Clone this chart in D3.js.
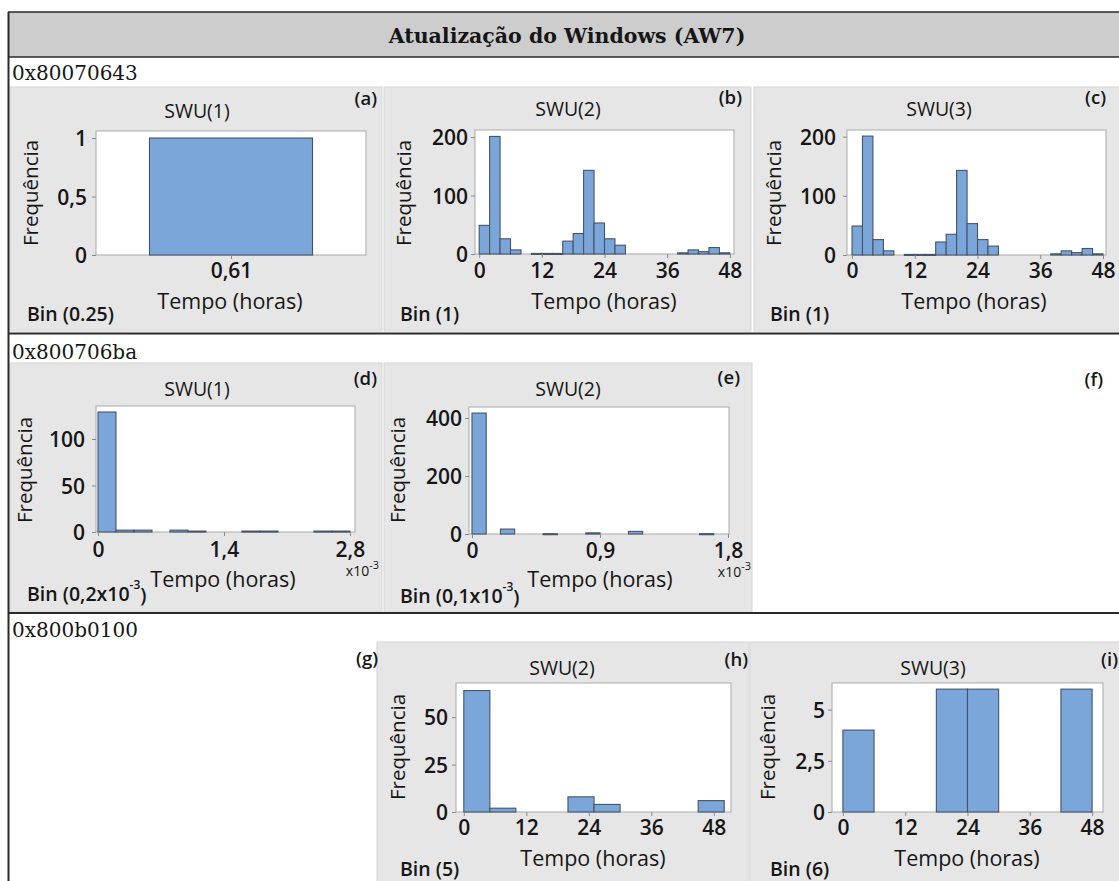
<!DOCTYPE html>
<html>
<head>
<meta charset="utf-8">
<script src="https://cdn.jsdelivr.net/npm/d3@7"></script>
<style>
  body { margin: 0; background: #fff; }
  svg { display: block; }
  text { font-family: "Open Sans", "Noto Sans", sans-serif; fill: #161616; }
</style>
</head>
<body>
<svg id="chart" width="1119" height="881"></svg>
<script>
// ---- Table text ----
const tableTitle = "Atualização do Windows (AW7)";
const rowCodes = ["0x80070643", "0x800706ba", "0x800b0100"];

// ---- Histogram data (counts per bin) ----
// (a) SWU(1), error 0x80070643 — one bin centred at 0,61 h
const aBinStart = 0.485, aBinWidth = 0.25;
const aCounts = [1];
// (b) SWU(2), error 0x80070643 — hours, bins of 2 h from 0
const bBinStart = 0, bBinWidth = 2;
const bCounts = [49, 201, 26, 7, 0, 1, 1, 1, 22, 35, 143, 53, 26, 15, 0, 0, 0, 0, 0, 2, 7, 4, 11, 2];
// (c) SWU(3), error 0x80070643
const cBinStart = 0, cBinWidth = 2;
const cCounts = [49, 201, 26, 7, 0, 1, 1, 1, 22, 35, 143, 53, 26, 15, 0, 0, 0, 0, 0, 2, 7, 4, 11, 2];
// (d) SWU(1), error 0x800706ba — units of 10^-3 h
const dBinStart = 0, dBinWidth = 0.2;
const dCounts = [129, 2, 2, 0, 2, 1, 0, 0, 1, 1, 0, 0, 1, 1];
// (e) SWU(2), error 0x800706ba — units of 10^-3 h
const eBinStart = 0, eBinWidth = 0.1;
const eCounts = [417, 0, 17, 0, 0, 1, 0, 0, 4, 0, 0, 9, 0, 0, 0, 0, 1, 0];
// (h) SWU(2), error 0x800b0100 — bins of 5 h
const hBinStart = 0, hBinWidth = 5;
const hCounts = [64, 2, 0, 0, 8, 4, 0, 0, 0, 6];
// (i) SWU(3), error 0x800b0100 — bins of 6 h
const iBinStart = 0, iBinWidth = 6;
const iCounts = [4, 0, 0, 6, 6, 0, 0, 6];

// ---- Tick values ----
const aXTicks = [0.61], aYTicks = [0, 0.5, 1];
const hourTicks = [0, 12, 24, 36, 48];
const bYTicks = [0, 100, 200];
const dXTicks = [0, 1.4, 2.8], dYTicks = [0, 50, 100];
const eXTicks = [0, 0.9, 1.8], eYTicks = [0, 200, 400];
const hYTicks = [0, 25, 50];
const iYTicks = [0, 2.5, 5];

// ---- Panel labels ----
const panelTitles = { a: "SWU(1)", b: "SWU(2)", c: "SWU(3)", d: "SWU(1)", e: "SWU(2)", h: "SWU(2)", i: "SWU(3)" };
const binLabels = { a: "Bin (0.25)", b: "Bin (1)", c: "Bin (1)", d: ["Bin (0,2x10", "-3", ")"], e: ["Bin (0,1x10", "-3", ")"], h: "Bin (5)", i: "Bin (6)" };
const xAxisTitle = "Tempo (horas)";
const yAxisTitle = "Frequência";

// Portuguese number formatting (decimal comma)
const pt = d3.formatLocale({ decimal: ",", thousands: ".", grouping: [3], currency: ["", ""] });
const fmt = v => pt.format("~g")(v);

const svg = d3.select("#chart");

// ---- Table frame ----
svg.append("rect").attr("x", 9).attr("y", 12).attr("width", 1112).attr("height", 45)
  .attr("fill", "#cdcdcd");
svg.append("text").attr("x", 567).attr("y", 36).attr("text-anchor", "middle")
  .attr("dominant-baseline", "central")
  .style("font-family", "'DejaVu Serif', serif").style("font-weight", "bold").style("font-size", "20.5px")
  .text(tableTitle);

const rowLabelY = [73, 352, 630];
rowCodes.forEach((code, k) => {
  svg.append("text").attr("x", 12).attr("y", rowLabelY[k]).attr("dominant-baseline", "central")
    .style("font-family", "'DejaVu Serif', serif").style("font-size", "20px").attr("fill", "#1e1e1e")
    .text(code);
});

// ---- Panel layout ----
const panels = [
  { id: "a", box: [10, 87, 372, 244], frame: [96, 366, 131, 255], xDomain: [0.403, 0.817], yDomain: [0, 1.06],
    start: aBinStart, width: aBinWidth, counts: aCounts, xTicks: aXTicks, yTicks: aYTicks,
    title: [197, 110], tag: [377, 97], ylab: [30, 193], tickRight: 87, xTickY: 270, xlab: [230, 300], bin: [27, 313] },
  { id: "b", box: [384, 87, 367, 244], frame: [475, 734, 130, 254], xDomain: [-0.8, 48.8], yDomain: [0, 212],
    start: bBinStart, width: bBinWidth, counts: bCounts, xTicks: hourTicks, yTicks: bYTicks,
    title: [568, 108], tag: [742, 96], ylab: [403, 193], tickRight: 468, xTickY: 270, xlab: [604, 300], bin: [400, 313] },
  { id: "c", box: [754, 87, 370, 244], frame: [847, 1106, 130, 255], xDomain: [-0.96, 48.57], yDomain: [0, 211.3],
    start: cBinStart, width: cBinWidth, counts: cCounts, xTicks: hourTicks, yTicks: bYTicks,
    title: [939, 108], tag: [1106, 96], ylab: [773, 193], tickRight: 836, xTickY: 270, xlab: [974, 300], bin: [770, 313] },
  { id: "d", box: [10, 363, 372, 249], frame: [96, 355, 406, 532], xDomain: [-0.022, 2.856], yDomain: [0, 135.5],
    start: dBinStart, width: dBinWidth, counts: dCounts, xTicks: dXTicks, yTicks: dYTicks,
    title: [197, 388], tag: [377, 377], ylab: [24, 470], tickRight: 85, xTickY: 549, xlab: [223, 578], bin: [27, 593],
    expo: [379, 570] },
  { id: "e", box: [384, 363, 368, 249], frame: [469, 729, 407, 534], xDomain: [-0.021, 1.807], yDomain: [0, 438],
    start: eBinStart, width: eBinWidth, counts: eCounts, xTicks: eXTicks, yTicks: eYTicks,
    title: [568, 388], tag: [740, 376], ylab: [397, 470], tickRight: 462, xTickY: 550, xlab: [600, 578], bin: [400, 595],
    expo: [751, 571] },
  { id: "h", box: [377, 642, 372, 245], frame: [456, 731, 683, 812], xDomain: [-1.5, 51.3], yDomain: [0, 68],
    start: hBinStart, width: hBinWidth, counts: hCounts, xTicks: hourTicks, yTicks: hYTicks,
    title: [562, 667], tag: [748, 658], ylab: [397, 747], tickRight: 448, xTickY: 827, xlab: [593, 857], bin: [400, 868] },
  { id: "i", box: [750, 642, 375, 245], frame: [832, 1103, 683, 812], xDomain: [-2.1, 50.1], yDomain: [0, 6.3],
    start: iBinStart, width: iBinWidth, counts: iCounts, xTicks: hourTicks, yTicks: iYTicks,
    title: [933, 667], tag: [1118, 658], ylab: [767, 747], tickRight: 825, xTickY: 827, xlab: [967, 857], bin: [770, 868] }
];

// Tags of the empty cells
const emptyTags = [{ id: "f", pos: [1103, 378] }, { id: "g", pos: [378, 657] }];

function tagText(g, id, pos) {
  g.append("text").attr("x", pos[0]).attr("y", pos[1]).attr("text-anchor", "end")
    .attr("dominant-baseline", "central")
    .style("font-size", "18.5px").style("font-weight", "600")
    .text("(" + id + ")");
}

function drawPanel(p) {
  const g = svg.append("g").attr("class", "panel-" + p.id);
  const [bx, by, bw, bh] = p.box;
  g.append("rect").attr("x", bx).attr("y", by).attr("width", bw).attr("height", bh)
    .attr("fill", "#e6e6e6").attr("stroke", "#d6d6d6");

  const [l, r, t, b] = p.frame;
  const x = d3.scaleLinear().domain(p.xDomain).range([l, r]);
  const y = d3.scaleLinear().domain(p.yDomain).range([b, t]);

  g.append("rect").attr("x", l).attr("y", t).attr("width", r - l).attr("height", b - t)
    .attr("fill", "#fff").attr("stroke", "#a9a9a9");

  const bins = p.counts.map((n, k) => ({ x0: p.start + k * p.width, x1: p.start + (k + 1) * p.width, n }))
    .filter(d => d.n > 0);

  g.append("g").selectAll("rect").data(bins).join("rect")
    .attr("x", d => x(d.x0))
    .attr("y", d => y(d.n))
    .attr("width", d => x(d.x1) - x(d.x0))
    .attr("height", d => Math.max(y(0) - y(d.n), 1))
    .attr("fill", "#7ba6d9")
    .attr("stroke", "#465366")
    .attr("stroke-width", 1.1);

  // y axis
  const ya = g.append("g").attr("transform", `translate(${l},0)`)
    .call(d3.axisLeft(y).tickValues(p.yTicks).tickSize(4).tickFormat(fmt));
  ya.select(".domain").remove();
  ya.selectAll(".tick line").attr("stroke", "#8a8a8a");
  ya.selectAll(".tick text").attr("x", p.tickRight - l).attr("dy", "0.36em")
    .style("font-size", "21px").style("font-weight", "600")
    .style("font-family", "'Open Sans', sans-serif").attr("fill", "#111");

  // x axis
  const xa = g.append("g").attr("transform", `translate(0,${b})`)
    .call(d3.axisBottom(x).tickValues(p.xTicks).tickSize(4).tickFormat(fmt));
  xa.select(".domain").remove();
  xa.selectAll(".tick line").attr("stroke", "#8a8a8a");
  xa.selectAll(".tick text").attr("y", p.xTickY - b).attr("dy", "0.36em")
    .style("font-size", "21px").style("font-weight", "600")
    .style("font-family", "'Open Sans', sans-serif").attr("fill", "#111");

  // titles
  g.append("text").attr("x", p.title[0]).attr("y", p.title[1]).attr("text-anchor", "middle")
    .attr("dominant-baseline", "central").style("font-size", "19.5px").text(panelTitles[p.id]);
  tagText(g, p.id, p.tag);

  g.append("text").attr("transform", `translate(${p.ylab[0]},${p.ylab[1]}) rotate(-90)`)
    .attr("text-anchor", "middle").attr("dominant-baseline", "central")
    .style("font-size", "20.5px").style("font-weight", "500").text(yAxisTitle);

  g.append("text").attr("x", p.xlab[0]).attr("y", p.xlab[1]).attr("text-anchor", "middle")
    .attr("dominant-baseline", "central").style("font-size", "21.5px").style("font-weight", "500").text(xAxisTitle);

  const bl = binLabels[p.id];
  const bt = g.append("text").attr("x", p.bin[0]).attr("y", p.bin[1]).attr("dominant-baseline", "central")
    .style("font-size", "19.5px").style("font-weight", "600");
  if (Array.isArray(bl)) {
    bt.append("tspan").text(bl[0]);
    bt.append("tspan").attr("dy", -9).style("font-size", "12px").text(bl[1]);
    bt.append("tspan").attr("dy", 10).text(bl[2]);
  } else {
    bt.text(bl);
  }

  if (p.expo) {
    const et = g.append("text").attr("x", p.expo[0]).attr("y", p.expo[1]).attr("text-anchor", "end")
      .attr("dominant-baseline", "central").style("font-size", "14px");
    et.append("tspan").text("x10");
    et.append("tspan").attr("dy", -6).style("font-size", "11px").text("-3");
  }
}

panels.forEach(drawPanel);
emptyTags.forEach(t => tagText(svg, t.id, t.pos));

// ---- Table grid lines ----
const line = (x1, y1, x2, y2, w) => svg.append("line")
  .attr("x1", x1).attr("y1", y1).attr("x2", x2).attr("y2", y2)
  .attr("stroke", "#2a2a2a").attr("stroke-width", w);
line(8, 12, 1119, 12, 1.5);
line(8, 57, 1119, 57, 1.5);
line(8, 333.5, 1119, 333.5, 2);
line(8, 613, 1119, 613, 2);
line(8.5, 12, 8.5, 881, 2);
</script>
</body>
</html>
